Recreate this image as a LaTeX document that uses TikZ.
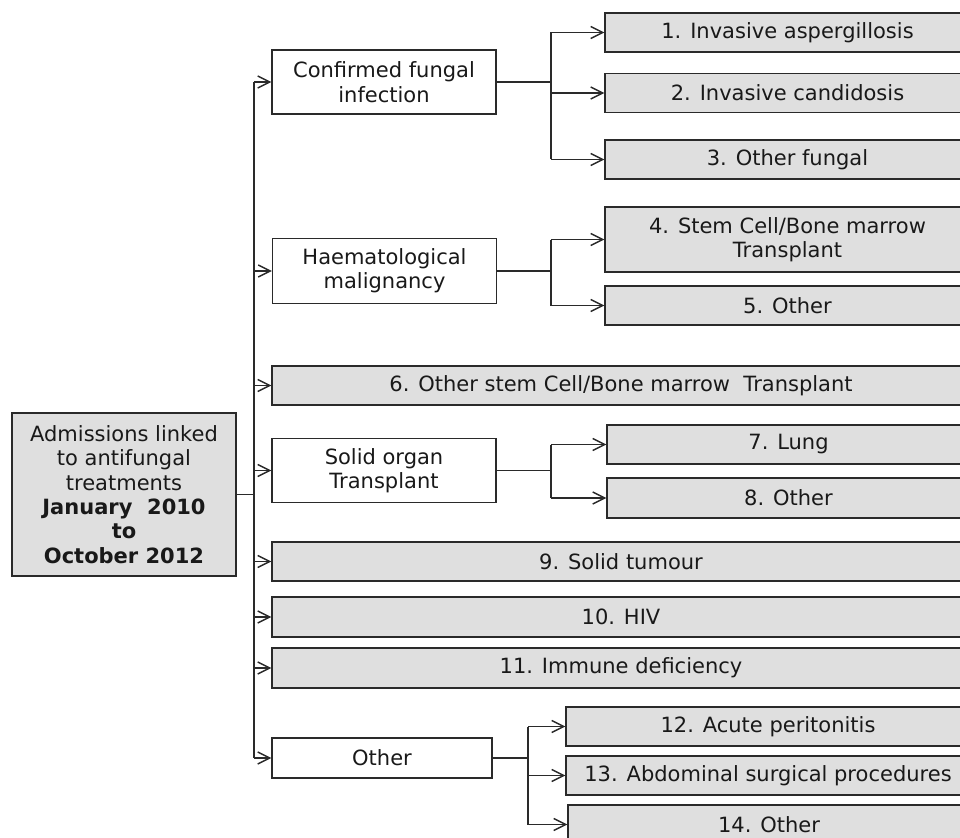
\documentclass[tikz,border=0pt]{standalone}
\usepackage{fontspec}
\setmainfont{DejaVu Sans}
\usetikzlibrary{positioning, arrows.meta}
\definecolor{boxgray}{HTML}{DFDFDF}
\definecolor{linegray}{HTML}{2A2A2A}

\begin{document}
\begin{tikzpicture}[
  x=1pt, y=-1pt,
  every node/.style={font=\fontsize{21}{24.4}\selectfont, text=black!90, align=center, inner sep=2pt},
  mainbox/.style={rectangle, draw=linegray, fill=boxgray, line width=1.4pt, minimum width=224pt, minimum height=163pt},
  group/.style={rectangle, draw=linegray, fill=white, line width=1.4pt, minimum width=224pt, minimum height=64pt},
  leaf/.style={rectangle, draw=linegray, fill=boxgray, line width=1.4pt, minimum height=39pt},
  link/.style={draw=linegray, line width=1.4pt},
  arrow/.style={link, -{Straight Barb[length=12pt, width=12pt, line width=1.4pt]}}
]
  \useasboundingbox (0,0) rectangle (960,837);
  \clip (0,0) rectangle (960,837);

  \node[mainbox] (adm) at (124,494.5) {Admissions linked\\to antifungal\\treatments\\\textbf{January\ \ 2010}\\\textbf{to}\\\textbf{October 2012}};

  \node[group] (cfi) at (384,82) {Confirmed fungal\\infection};
  \node[group, minimum height=65pt] (haem) at (384.5,271) {Haematological\\malignancy};
  \node[group] (sot) at (384,470.5) {Solid organ\\Transplant};
  \node[group, minimum width=220pt, minimum height=40pt] (oth) at (382,758) {Other};

  \node[leaf, minimum width=365pt] (asp) at (787.5,32.5) {1. Invasive aspergillosis};
  \node[leaf, minimum width=365pt] (can) at (787.5,93) {2. Invasive candidosis};
  \node[leaf, minimum width=365pt] (ofu) at (787.5,159.5) {3. Other fungal};
  \node[leaf, minimum width=365pt, minimum height=65pt] (scb) at (787.5,239.5) {4. Stem Cell/Bone marrow\\Transplant};
  \node[leaf, minimum width=365pt] (hot) at (787.5,305.5) {5. Other};
  \node[leaf, minimum width=698pt] (osc) at (621,385.5) {6. Other stem Cell/Bone marrow\ \ Transplant};
  \node[leaf, minimum width=363pt] (lung) at (788.5,444.5) {7. Lung};
  \node[leaf, minimum width=363pt, minimum height=40pt] (sot2) at (788.5,498) {8. Other};
  \node[leaf, minimum width=698pt] (tum) at (621,561.5) {9. Solid tumour};
  \node[leaf, minimum width=698pt, minimum height=40pt] (hiv) at (621,617) {10. HIV};
  \node[leaf, minimum width=698pt, minimum height=40pt] (imm) at (621,668) {11. Immune deficiency};
  \node[leaf, minimum width=404pt] (per) at (768,726.5) {12. Acute peritonitis};
  \node[leaf, minimum width=404pt] (abd) at (768,775.5) {13. Abdominal surgical procedures};
  \node[leaf, minimum width=402pt] (oth2) at (769,824.5) {14. Other};

  % Main trunk from the admissions box.
  \coordinate (tr) at (254,494.5);
  \draw[link] (adm.east) -- (tr);
  \draw[link] (tr |- cfi.west) -- (tr |- oth.west);
  \draw[arrow] (tr |- cfi.west) -- (cfi.west);
  \draw[arrow] (tr |- haem.west) -- (haem.west);
  \draw[arrow] (tr |- osc.west) -- (osc.west);
  \draw[arrow] (tr |- sot.west) -- (sot.west);
  \draw[arrow] (tr |- tum.west) -- (tum.west);
  \draw[arrow] (tr |- hiv.west) -- (hiv.west);
  \draw[arrow] (tr |- imm.west) -- (imm.west);
  \draw[arrow] (tr |- oth.west) -- (oth.west);

  % Confirmed fungal infection.
  \coordinate (s1) at (551,82);
  \draw[link] (cfi.east) -- (s1);
  \draw[link] (s1 |- asp.west) -- (s1 |- ofu.west);
  \draw[arrow] (s1 |- asp.west) -- (asp.west);
  \draw[arrow] (s1 |- can.west) -- (can.west);
  \draw[arrow] (s1 |- ofu.west) -- (ofu.west);

  % Haematological malignancy.
  \coordinate (s2) at (551,271);
  \draw[link] (haem.east) -- (s2);
  \draw[link] (s2 |- scb.west) -- (s2 |- hot.west);
  \draw[arrow] (s2 |- scb.west) -- (scb.west);
  \draw[arrow] (s2 |- hot.west) -- (hot.west);

  % Solid organ transplant.
  \coordinate (s3) at (551,470.5);
  \draw[link] (sot.east) -- (s3);
  \draw[link] (s3 |- lung.west) -- (s3 |- sot2.west);
  \draw[arrow] (s3 |- lung.west) -- (lung.west);
  \draw[arrow] (s3 |- sot2.west) -- (sot2.west);

  % Other.
  \coordinate (s4) at (528,758);
  \draw[link] (oth.east) -- (s4);
  \draw[link] (s4 |- per.west) -- (s4 |- oth2.west);
  \draw[arrow] (s4 |- per.west) -- (per.west);
  \draw[arrow] (s4 |- abd.west) -- (abd.west);
  \draw[arrow] (s4 |- oth2.west) -- (oth2.west);
\end{tikzpicture}
\end{document}
